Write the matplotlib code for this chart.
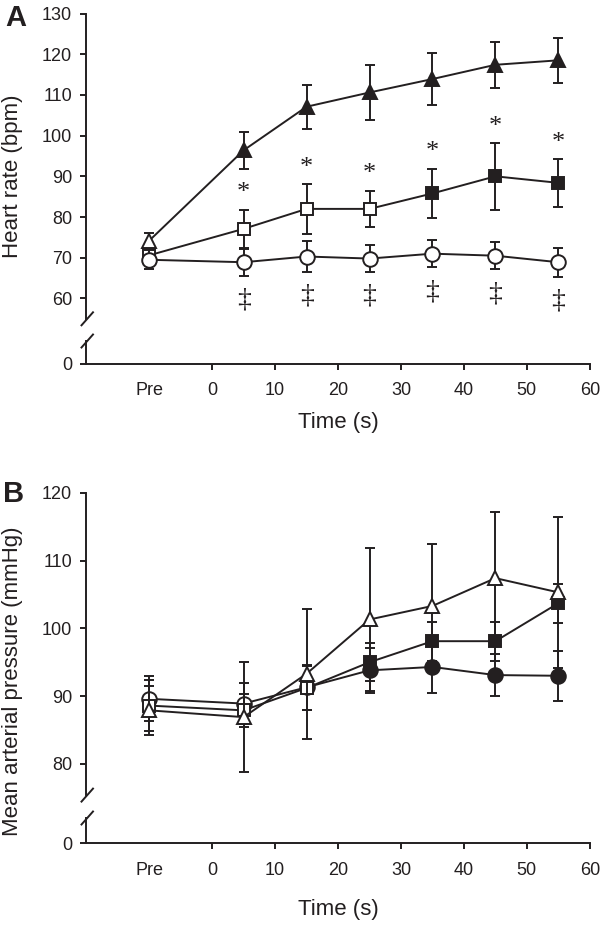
import numpy as np
import matplotlib
matplotlib.use("Agg")
import matplotlib.pyplot as plt
from matplotlib.lines import Line2D

plt.rcParams["font.family"] = ["Liberation Sans", "DejaVu Sans"]

INK = "#231f20"

# time points: "Pre" is drawn at -10 s
TIME = [-10, 5, 15, 25, 35, 45, 55]
XTICKS = [-10, 0, 10, 20, 30, 40, 50, 60]
XTICKLABELS = ["Pre", "0", "10", "20", "30", "40", "50", "60"]

# --- panel A: heart rate (bpm) ---
hr_tri = [74.2, 96.4, 107.1, 110.6, 113.9, 117.4, 118.5]
hr_tri_err = [1.8, 4.5, 5.4, 6.7, 6.4, 5.6, 5.6]
hr_tri_fill = [False, True, True, True, True, True, True]

hr_sq = [70.6, 77.1, 82.0, 82.0, 85.8, 90.0, 88.4]
hr_sq_err = [1.5, 4.7, 6.1, 4.5, 6.1, 8.2, 5.9]
hr_sq_fill = [False, False, False, False, True, True, True]

hr_circ = [69.5, 68.9, 70.3, 69.8, 71.0, 70.5, 68.9]
hr_circ_err = [2.3, 3.3, 3.7, 3.3, 3.3, 3.3, 3.6]
hr_circ_fill = [False] * 7

# significance marks (index into TIME)
star_idx = [1, 2, 3, 4, 5, 6]     # * above squares
dagger_idx = [1, 2, 3, 4, 5, 6]   # ‡ below circles

# --- panel B: mean arterial pressure (mmHg) ---
map_circ = [89.6, 88.9, 91.3, 93.8, 94.3, 93.1, 93.0]
map_circ_err = [3.3, 3.0, 3.3, 3.3, 3.8, 3.1, 3.7]
map_circ_fill = [False, False, False, True, True, True, True]

map_sq = [88.6, 87.9, 91.2, 95.0, 98.1, 98.1, 103.7]
map_sq_err = [3.8, 2.4, 3.3, 2.8, 2.9, 2.9, 2.9]
map_sq_fill = [False, False, False, True, True, True, True]

map_tri = [87.9, 86.9, 93.3, 101.3, 103.3, 107.4, 105.3]
map_tri_err = [3.6, 8.1, 9.6, 10.5, 9.1, 9.8, 11.1]
map_tri_fill = [False] * 7

W, H = 600, 926
MSIZE = {"^": 10.5, "s": 9.0, "o": 10.5}


def draw_series(ax, y, err, fill, marker, z):
    x = np.array(TIME, dtype=float)
    y = np.array(y)
    fill = np.array(fill)
    ax.errorbar(x, y, yerr=err, fmt="none", ecolor=INK, elinewidth=1.4,
                capsize=3.8, capthick=1.4, zorder=z)
    ax.plot(x, y, color=INK, lw=1.4, zorder=z + 0.1)
    ms = MSIZE[marker]
    ax.plot(x[fill], y[fill], ls="none", marker=marker, ms=ms, mfc=INK,
            mec=INK, mew=1.4, zorder=z + 0.2)
    ax.plot(x[~fill], y[~fill], ls="none", marker=marker, ms=ms, mfc="white",
            mec=INK, mew=1.4, zorder=z + 0.2)


def style_left(ax, fontsize=13):
    for s in ("top", "right"):
        ax.spines[s].set_visible(False)
    ax.spines["left"].set_linewidth(1.4)
    ax.spines["left"].set_color(INK)
    ax.tick_params(axis="y", direction="out", length=4.3, width=1.4,
                   colors=INK, labelsize=fontsize, pad=6)


def slash(fig, xpix, ypix):
    fig.add_artist(Line2D([(xpix - 6) / W, (xpix + 5.5) / W],
                          [1 - (ypix + 6.5) / H, 1 - (ypix - 6.5) / H],
                          transform=fig.transFigure, color=INK, lw=1.4))


def make_panel(fig, top_px, bot_px, axis_px, low_top_px, ylim, yticks,
               low_ylim):
    left, right = 86.3, 589.8
    ax = fig.add_axes([left / W, 1 - bot_px / H, (right - left) / W,
                       (bot_px - top_px) / H])
    axl = fig.add_axes([left / W, 1 - axis_px / H, (right - left) / W,
                        (axis_px - low_top_px) / H], sharex=ax)
    style_left(ax)
    ax.spines["bottom"].set_visible(False)
    ax.tick_params(axis="x", which="both", bottom=False, labelbottom=False)
    ax.set_ylim(*ylim)
    ax.set_yticks(yticks)
    ax.patch.set_alpha(0)

    style_left(axl)
    axl.spines["bottom"].set_linewidth(1.4)
    axl.spines["bottom"].set_color(INK)
    axl.set_ylim(*low_ylim)
    axl.set_yticks([0])
    axl.set_xlim(-20, 60)
    axl.set_xticks(XTICKS)
    axl.set_xticklabels(XTICKLABELS)
    axl.tick_params(axis="x", direction="out", length=4.3, width=1.4,
                    colors=INK, labelsize=13, pad=9)
    axl.xaxis.get_major_ticks()[0].tick1line.set_visible(False)
    axl.patch.set_alpha(0)

    slash(fig, left + 1.2, bot_px)
    slash(fig, left + 1.2, low_top_px)
    return ax, axl


fig = plt.figure(figsize=(W / 100, H / 100), dpi=100)

# panel A
axA, axA_low = make_panel(fig, 13.5, 318.8, 363.5, 341.0, (55, 130),
                          range(60, 131, 10), (0, 5.5))
draw_series(axA, hr_tri, hr_tri_err, hr_tri_fill, "^", 2)
draw_series(axA, hr_sq, hr_sq_err, hr_sq_fill, "s", 3)
draw_series(axA, hr_circ, hr_circ_err, hr_circ_fill, "o", 4)
for i in star_idx:
    axA.text(TIME[i], hr_sq[i] + hr_sq_err[i] + 4.0, "*", ha="center",
             va="center", fontsize=19, color=INK, family="Liberation Serif")
for i in dagger_idx:
    axA.text(TIME[i], hr_circ[i] - hr_circ_err[i] - 6.0, "\u2021", ha="center",
             va="center", fontsize=20, color=INK, family="Liberation Serif")

# panel B
axB, axB_low = make_panel(fig, 492.7, 795.1, 843.3, 818.0, (75.4, 120),
                          range(80, 121, 10), (0, 3.73))
draw_series(axB, map_circ, map_circ_err, map_circ_fill, "o", 2)
draw_series(axB, map_sq, map_sq_err, map_sq_fill, "s", 3)
draw_series(axB, map_tri, map_tri_err, map_tri_fill, "^", 4)

# labels
fig.text(338 / W, 1 - 423 / H, "Time (s)", ha="center", va="center",
         fontsize=16, color=INK)
fig.text(338 / W, 1 - 909 / H, "Time (s)", ha="center", va="center",
         fontsize=16, color=INK)
fig.text(12.5 / W, 1 - 176.5 / H, "Heart rate (bpm)", rotation=90,
         ha="center", va="center", fontsize=16, color=INK)
fig.text(12.5 / W, 1 - 681 / H, "Mean arterial pressure (mmHg)", rotation=90,
         ha="center", va="center", fontsize=16, color=INK)
fig.text(15.5 / W, 1 - 18 / H, "A", ha="center", va="center", fontsize=21,
         fontweight="bold", color=INK)
fig.text(13.5 / W, 1 - 493.5 / H, "B", ha="center", va="center", fontsize=21,
         fontweight="bold", color=INK)

fig.savefig("out.png", dpi=100)
